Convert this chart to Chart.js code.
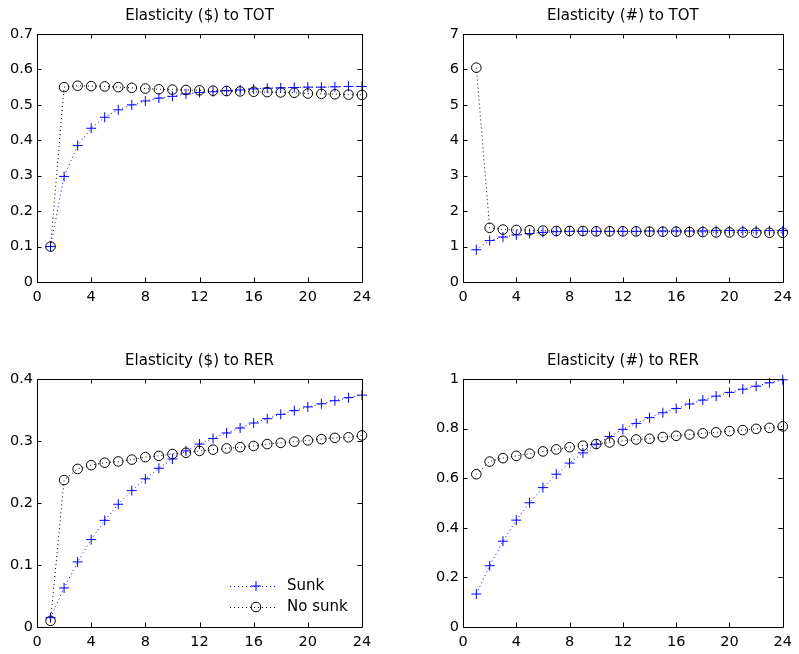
<!DOCTYPE html>
<html>
<head>
<meta charset="utf-8">
<script src="https://cdn.jsdelivr.net/npm/chart.js@4.4.1/dist/chart.umd.min.js"></script>
<style>
  html, body { margin: 0; padding: 0; background: #fff; }
  #wrap { position: relative; width: 799px; height: 654px; overflow: hidden; }
  canvas { position: absolute; }
</style>
</head>
<body>
<div id="wrap">
  <canvas id="c1" width="400" height="327" style="left:0;top:0"></canvas>
  <canvas id="c2" width="399" height="327" style="left:400px;top:0"></canvas>
  <canvas id="c3" width="400" height="327" style="left:0;top:327px"></canvas>
  <canvas id="c4" width="399" height="327" style="left:400px;top:327px"></canvas>
</div>
<script>
// ---- data ----
const periods = [1,2,3,4,5,6,7,8,9,10,11,12,13,14,15,16,17,18,19,20,21,22,23,24];
const seriesNames = ["Sunk", "No sunk"];
const panelTitles = ["Elasticity ($) to TOT", "Elasticity (#) to TOT", "Elasticity ($) to RER", "Elasticity (#) to RER"];
const xTicks = [0,4,8,12,16,20,24];

const totDollarSunk   = [0.100,0.298,0.385,0.434,0.465,0.486,0.500,0.511,0.519,0.524,0.531,0.535,0.537,0.540,0.542,0.545,0.547,0.548,0.549,0.550,0.550,0.551,0.552,0.552];
const totDollarNoSunk = [0.100,0.550,0.554,0.553,0.552,0.550,0.548,0.546,0.544,0.543,0.542,0.541,0.540,0.539,0.538,0.537,0.536,0.535,0.534,0.532,0.531,0.530,0.529,0.528];
const totDollarTicks  = [0,0.1,0.2,0.3,0.4,0.5,0.6,0.7];

const totCountSunk    = [0.91,1.17,1.27,1.33,1.37,1.40,1.42,1.43,1.43,1.43,1.43,1.43,1.43,1.44,1.44,1.44,1.44,1.44,1.45,1.45,1.45,1.45,1.45,1.45];
const totCountNoSunk  = [6.05,1.53,1.48,1.47,1.46,1.45,1.44,1.44,1.44,1.43,1.43,1.43,1.43,1.42,1.42,1.42,1.41,1.41,1.40,1.40,1.40,1.39,1.39,1.39];
const totCountTicks   = [0,1,2,3,4,5,6,7];

const rerDollarSunk   = [0.015,0.063,0.105,0.141,0.172,0.198,0.220,0.239,0.256,0.271,0.284,0.295,0.304,0.313,0.321,0.329,0.336,0.343,0.349,0.355,0.360,0.365,0.370,0.374];
const rerDollarNoSunk = [0.010,0.237,0.255,0.261,0.265,0.267,0.270,0.274,0.276,0.279,0.281,0.284,0.286,0.288,0.290,0.292,0.295,0.297,0.299,0.301,0.303,0.305,0.306,0.309];
const rerDollarTicks  = [0,0.1,0.2,0.3,0.4];

const rerCountSunk    = [0.133,0.247,0.346,0.431,0.501,0.562,0.616,0.661,0.702,0.737,0.768,0.797,0.821,0.844,0.864,0.881,0.899,0.915,0.931,0.946,0.959,0.971,0.985,0.997];
const rerCountNoSunk  = [0.616,0.667,0.681,0.690,0.699,0.708,0.716,0.725,0.731,0.738,0.744,0.751,0.756,0.759,0.766,0.771,0.776,0.781,0.785,0.790,0.794,0.799,0.803,0.809];
const rerCountTicks   = [0,0.2,0.4,0.6,0.8,1];

// ---- styling ----
const FONT = "'DejaVu Sans', 'Liberation Sans', Arial, sans-serif";
const BLUE = '#0000ff';
const BLACK = '#000000';

const boxPlugin = {
  id: 'matlabBox',
  afterDatasetsDraw(chart) {
    const ctx = chart.ctx, a = chart.chartArea;
    const xs = chart.scales.x, ys = chart.scales.y;
    const tl = 4.5;
    ctx.save();
    ctx.strokeStyle = '#000';
    ctx.lineWidth = 1;
    ctx.beginPath();
    ctx.rect(Math.round(a.left) + 0.5, Math.round(a.top) + 0.5, Math.round(a.right - a.left), Math.round(a.bottom - a.top));
    xs.ticks.forEach(t => {
      const px = Math.round(xs.getPixelForValue(t.value)) + 0.5;
      ctx.moveTo(px, a.bottom); ctx.lineTo(px, a.bottom - tl);
      ctx.moveTo(px, a.top); ctx.lineTo(px, a.top + tl);
    });
    ys.ticks.forEach(t => {
      const py = Math.round(ys.getPixelForValue(t.value)) + 0.5;
      ctx.moveTo(a.left, py); ctx.lineTo(a.left + tl, py);
      ctx.moveTo(a.right, py); ctx.lineTo(a.right - tl, py);
    });
    ctx.stroke();
    ctx.restore();
  }
};

const legendPlugin = {
  id: 'insideLegend',
  afterDraw(chart, args, opts) {
    if (!opts || !opts.show) return;
    const ctx = chart.ctx, a = chart.chartArea;
    const rows = [a.bottom - 41, a.bottom - 20];
    chart.data.datasets.forEach((ds, i) => {
      const y = rows[i];
      const x0 = a.right - 132, x1 = a.right - 85, xm = a.right - 106;
      ctx.save();
      ctx.strokeStyle = ds.borderColor;
      ctx.lineWidth = 1;
      ctx.setLineDash([1, 3]);
      ctx.beginPath();
      ctx.moveTo(x0, y + 0.5); ctx.lineTo(x1, y + 0.5);
      ctx.stroke();
      ctx.setLineDash([]);
      ctx.strokeStyle = ds.pointBorderColor;
      ctx.fillStyle = 'rgba(0,0,0,0)';
      Chart.helpers.drawPoint(ctx, { pointStyle: ds.pointStyle, radius: ds.pointRadius, rotation: 0, borderWidth: 1 }, xm, y);
      ctx.fillStyle = '#000';
      ctx.font = '15px ' + FONT;
      ctx.textAlign = 'left';
      ctx.textBaseline = 'middle';
      ctx.fillText(ds.label, a.right - 75, y);
      ctx.restore();
    });
  }
};

function toPoints(vals) { return periods.map((p, i) => ({ x: p, y: vals[i] })); }

function makePanel(id, title, sunk, noSunk, yTicks, box, showLegend) {
  const yMin = yTicks[0], yMax = yTicks[yTicks.length - 1];
  return new Chart(document.getElementById(id), {
    type: 'scatter',
    data: {
      datasets: [
        {
          label: seriesNames[0], data: toPoints(sunk), showLine: true,
          borderColor: BLUE, borderWidth: 1, borderDash: [1, 3],
          pointStyle: 'cross', pointRadius: 5, pointHoverRadius: 5,
          pointBorderColor: BLUE, pointBackgroundColor: BLUE, pointBorderWidth: 1,
          clip: false, order: 2
        },
        {
          label: seriesNames[1], data: toPoints(noSunk), showLine: true,
          borderColor: BLACK, borderWidth: 1, borderDash: [1, 3],
          pointStyle: 'circle', pointRadius: 4.8, pointHoverRadius: 4.8,
          pointBorderColor: BLACK, pointBackgroundColor: 'rgba(0,0,0,0)', pointBorderWidth: 1,
          clip: false, order: 1
        }
      ]
    },
    options: {
      responsive: false, animation: false, devicePixelRatio: 1,
      layout: { padding: { left: 0, right: box.right, top: box.top, bottom: 0 } },
      plugins: {
        legend: { display: false },
        tooltip: { enabled: false },
        title: {
          display: true, text: title, color: '#000', fullSize: false,
          font: { family: FONT, size: 15, weight: 'normal', lineHeight: 1.2 },
          padding: { top: 7, bottom: 9 }
        },
        insideLegend: { show: showLegend }
      },
      scales: {
        x: {
          type: 'linear', min: 0, max: 24,
          afterBuildTicks: s => { s.ticks = xTicks.map(v => ({ value: v })); },
          afterFit: s => { s.height = box.bottom; },
          grid: { display: false, drawTicks: false },
          border: { display: false },
          ticks: {
            color: '#000', font: { family: FONT, size: 14.5 }, padding: 7,
            autoSkip: false, maxRotation: 0, minRotation: 0,
            callback: v => String(v)
          }
        },
        y: {
          type: 'linear', min: yMin, max: yMax,
          afterBuildTicks: s => { s.ticks = yTicks.map(v => ({ value: v })); },
          afterFit: s => { s.width = box.left; },
          grid: { display: false, drawTicks: false },
          border: { display: false },
          ticks: {
            color: '#000', font: { family: FONT, size: 14.5 }, padding: 4,
            autoSkip: false,
            callback: v => String(v)
          }
        }
      }
    },
    plugins: [boxPlugin, legendPlugin]
  });
}

makePanel('c1', panelTitles[0], totDollarSunk, totDollarNoSunk, totDollarTicks, { left: 37, right: 38, top: 0, bottom: 45 }, false);
makePanel('c2', panelTitles[1], totCountSunk, totCountNoSunk, totCountTicks, { left: 63, right: 11, top: 0, bottom: 45 }, false);
makePanel('c3', panelTitles[2], rerDollarSunk, rerDollarNoSunk, rerDollarTicks, { left: 37, right: 38, top: 18, bottom: 27 }, true);
makePanel('c4', panelTitles[3], rerCountSunk, rerCountNoSunk, rerCountTicks, { left: 63, right: 11, top: 18, bottom: 27 }, false);
</script>
</body>
</html>
